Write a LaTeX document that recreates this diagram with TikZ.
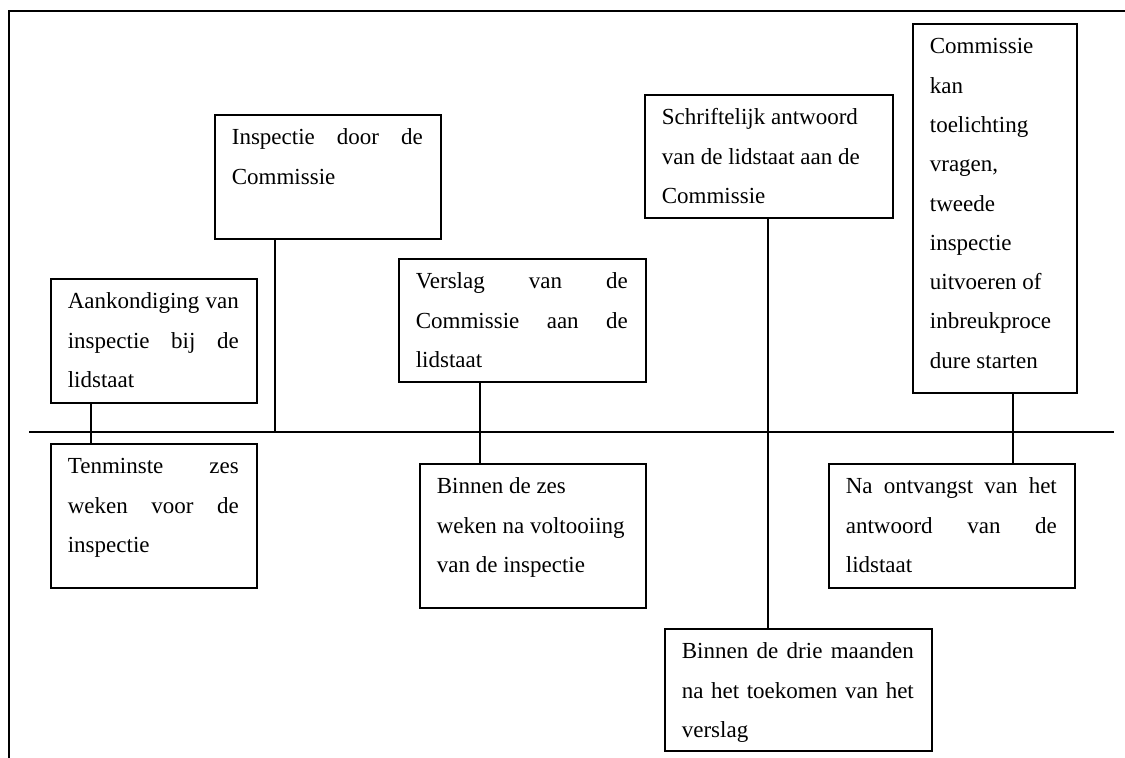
\documentclass[tikz,border=0pt]{standalone}
\usepackage{fontspec}
\setmainfont{Liberation Serif}
\newcommand\jl[1]{\makebox[\linewidth][s]{#1}}
\newcommand\bx[3]{\parbox[c][#2][t]{#1}{\hspace*{17pt}\parbox[t]{\dimexpr#1-35pt\relax}{\raggedright\rule{0pt}{30pt}#3}}}
\tikzset{
  tbox/.style={draw, line width=1.7pt, inner sep=0pt, anchor=north west,
    font=\fontsize{23}{39.3}\selectfont},
  conn/.style={line width=1.7pt},
}
\begin{document}
\begin{tikzpicture}[x=1pt,y=-1pt]
\useasboundingbox (0,0) rectangle (1125,758);
\draw[line width=1.8pt] (9,758) -- (9,11) -- (1125,11);
\coordinate (tl) at (29,432);
\coordinate (tr) at (1114,432);
\draw[conn] (tl) -- (tr);

\node[tbox] (A) at (50,278) {\bx{206pt}{124pt}{\jl{Aankondiging van}\\\jl{inspectie bij de}\\lidstaat}};
\node[tbox] (T) at (50,443) {\bx{206pt}{144pt}{\jl{Tenminste zes}\\\jl{weken voor de}\\inspectie}};
\node[tbox] (I) at (214,114) {\bx{226pt}{124pt}{\jl{Inspectie door de}\\Commissie}};
\node[tbox] (V) at (398,258) {\bx{247pt}{123pt}{\jl{Verslag van de}\\\jl{Commissie aan de}\\lidstaat}};
\node[tbox] (B) at (419,463) {\bx{226pt}{144pt}{Binnen de zes\\weken na voltooiing\\van de inspectie}};
\node[tbox] (S) at (644,94) {\bx{248pt}{123pt}{Schriftelijk antwoord\\van de lidstaat aan de\\Commissie}};
\node[tbox] (D) at (664,628) {\bx{267pt}{122pt}{\jl{Binnen de drie maanden}\\\jl{na het toekomen van het}\\verslag}};
\node[tbox] (C) at (912,23) {\bx{164pt}{369pt}{Commissie\\kan\\toelichting\\vragen,\\tweede\\inspectie\\uitvoeren of\\inbreukproce\\dure starten}};
\node[tbox] (N) at (828,463) {\bx{246pt}{124pt}{\jl{Na ontvangst van het}\\\jl{antwoord van de}\\lidstaat}};

\coordinate (xa) at (91,0);
\coordinate (xi) at (275,0);
\coordinate (xv) at (480,0);
\coordinate (xs) at (768,0);
\coordinate (xc) at (1013,0);
\draw[conn] (A.south -| xa) -- (T.north -| xa);
\draw[conn] (I.south -| xi) -- (tl -| xi);
\draw[conn] (V.south -| xv) -- (B.north -| xv);
\draw[conn] (S.south -| xs) -- (D.north -| xs);
\draw[conn] (C.south -| xc) -- (N.north -| xc);
\end{tikzpicture}
\end{document}
